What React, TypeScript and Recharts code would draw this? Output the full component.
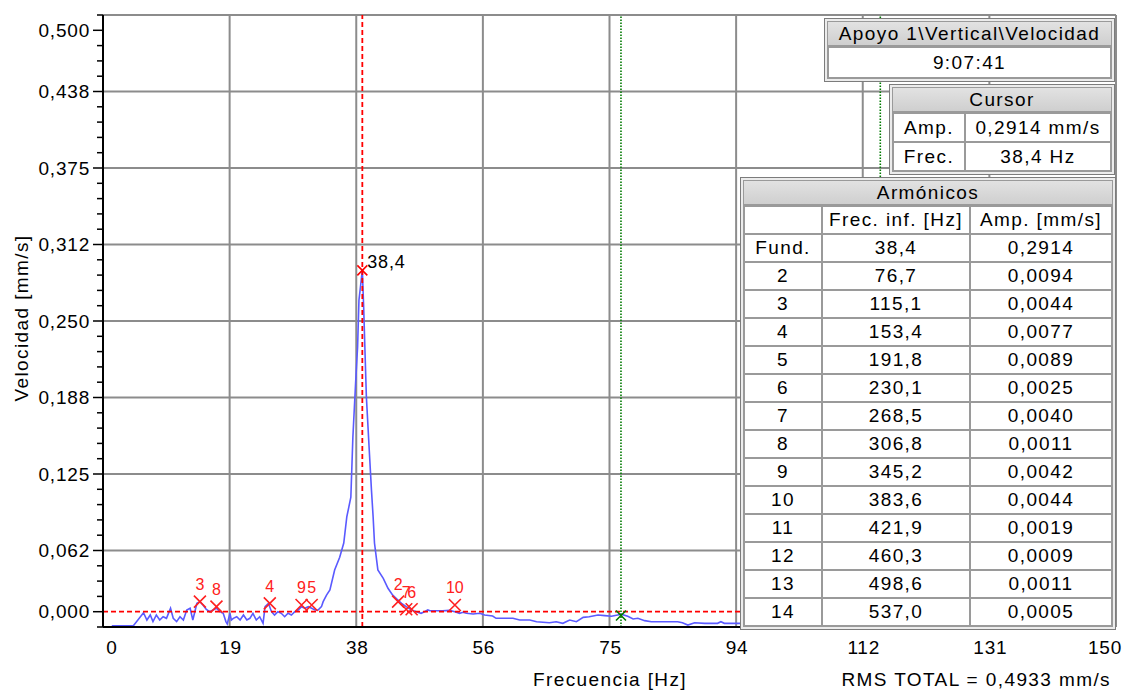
import React from 'react'
import { ComposedChart, Line, Scatter, XAxis, YAxis, CartesianGrid, ReferenceLine } from 'recharts'

// spectrum (Hz / mm/s)
const spectrumFreq = [
  1.3, 4.5, 6.0, 6.5, 7.0, 7.4, 7.9, 8.4, 8.9, 9.4, 10.0, 10.4, 10.9, 11.4, 11.9, 12.4, 12.9, 13.3, 13.6, 13.9,
  14.35, 14.8, 15.3, 15.8, 16.3, 16.8, 17.3, 17.8, 18.2, 18.4, 18.8, 19.0, 19.3, 19.8, 20.3, 20.8, 21.3, 21.75, 22.2, 22.7,
  23.2, 23.7, 24.0, 24.5, 24.95, 25.4, 25.9, 26.4, 26.9, 27.4, 27.9, 28.4, 28.9, 29.4, 29.9, 30.4, 30.9, 31.4, 31.85, 32.35,
  32.6, 33.1, 33.6, 34.3, 35.05, 35.65, 36.1, 36.7, 37.0, 37.4, 37.7, 37.9, 38.4, 38.6, 38.8, 39.0, 39.4, 39.75, 40.0, 40.2,
  40.7, 41.5, 42.2, 42.9, 43.4, 44.2, 44.9, 45.7, 46.4, 47.1, 47.6, 48.1, 48.4, 50.3, 51.3, 52.1, 52.8, 53.3, 53.8, 54.8,
  55.8, 56.5, 57.7, 58.2, 60.7, 61.7, 63.2, 64.2, 66.1, 67.1, 68.1, 69.1, 70.1, 71.1, 72.0, 73.3, 74.3, 75.3, 76.2, 76.7,
  77.7, 78.5, 79.2, 80.2, 81.2, 83.1, 85.1, 85.8, 86.6, 87.6, 89.1, 91.0, 91.5, 92.0, 94.0, 96.0,
]
const spectrumAmp = [
  0.0010, 0.0010, 0.0117, 0.0057, 0.0098, 0.0044, 0.0098, 0.0057, 0.0084, 0.0071, 0.0153, 0.0071, 0.0044, 0.0084, 0.0057, 0.0139, 0.0153, 0.0057, 0.0125, 0.0193,
  0.0207, 0.0180, 0.0144, 0.0125, 0.0139, 0.0153, 0.0125, 0.0112, 0.0044, 0.0025, 0.0112, 0.0057, 0.0071, 0.0084, 0.0057, 0.0098, 0.0057, 0.0071, 0.0112, 0.0057,
  0.0084, 0.0030, 0.0166, 0.0193, 0.0125, 0.0098, 0.0125, 0.0112, 0.0084, 0.0112, 0.0098, 0.0125, 0.0139, 0.0166, 0.0153, 0.0166, 0.0153, 0.0139, 0.0139, 0.0166,
  0.0207, 0.0261, 0.0302, 0.0466, 0.0570, 0.0686, 0.0899, 0.1060, 0.1550, 0.1990, 0.2290, 0.2670, 0.2914, 0.2610, 0.2240, 0.1880, 0.1470, 0.1120, 0.0899, 0.0686,
  0.0466, 0.0398, 0.0316, 0.0260, 0.0234, 0.0193, 0.0166, 0.0139, 0.0125, 0.0112, 0.0125, 0.0139, 0.0133, 0.0133, 0.0136, 0.0125, 0.0112, 0.0120, 0.0112, 0.0106,
  0.0112, 0.0098, 0.0090, 0.0071, 0.0071, 0.0057, 0.0057, 0.0043, 0.0035, 0.0043, 0.0030, 0.0057, 0.0043, 0.0079, 0.0084, 0.0098, 0.0093, 0.0088, 0.0098, 0.0105,
  0.0088, 0.0066, 0.0071, 0.0052, 0.0043, 0.0043, 0.0043, 0.0035, 0.0016, 0.0035, 0.0030, 0.0030, 0.0043, 0.0030, 0.0030, 0.0030,
]

const xTicks = [0, 18.75, 37.5, 56.25, 75, 93.75, 112.5, 131.25, 150]
const xTickLabels = ['0', '19', '38', '56', '75', '94', '112', '131', '150']

const yGridValues = [0.0625, 0.125, 0.1875, 0.25, 0.3125, 0.375, 0.4375, 0.5]
const yLabelValues = [0.0125, 0.0625, 0.125, 0.1875, 0.25, 0.3125, 0.375, 0.4375, 0.4875]
const yLabels = ['0,000', '0,062', '0,125', '0,188', '0,250', '0,312', '0,375', '0,438', '0,500']
const yMinorTicks = Array.from({ length: 41 }, (_, i) => +(i * 0.0125).toFixed(4))

// marked peaks on the spectrum
const markLabels = ['3', '8', '4', '9', '5', '2', '7', '6', '10']
const markFreq = [14.35, 16.8, 24.7, 29.4, 30.9, 43.7, 44.9, 45.7, 52.1]
const markAmp = [0.0207, 0.0166, 0.0193, 0.018, 0.018, 0.0207, 0.0145, 0.0145, 0.018]

const cursorFreq = 38.4
const cursorAmp = 0.2914
const alarmLevel = 0.0125

const harmonicOrder = ['Fund.', '2', '3', '4', '5', '6', '7', '8', '9', '10', '11', '12', '13', '14']
const harmonicFreq = [38.4, 76.7, 115.1, 153.4, 191.8, 230.1, 268.5, 306.8, 345.2, 383.6, 421.9, 460.3, 498.6, 537.0]
const harmonicAmp = [0.2914, 0.0094, 0.0044, 0.0077, 0.0089, 0.0025, 0.0040, 0.0011, 0.0042, 0.0044, 0.0019, 0.0009, 0.0011, 0.0005]

const pointTitle = 'Apoyo 1\\Vertical\\Velocidad'
const pointTime = '9:07:41'
const rmsTotal = 0.4933

const W = 1124
const H = 695
const FONT = '"Liberation Sans", Arial, sans-serif'
const SPACING = 1.4
const fmt = (v: number, d: number) => v.toFixed(d).replace('.', ',')

const spectrum = spectrumFreq.map((f, i) => ({ freq: f, amp: spectrumAmp[i] }))
const marks = markFreq.map((f, i) => ({ freq: f, amp: markAmp[i], label: markLabels[i] }))
const cursorPoint = [{ freq: cursorFreq, amp: cursorAmp }]
const secondHarmonic = [{ freq: harmonicFreq[1], amp: harmonicAmp[1] }]

const tickStyle = { fontFamily: FONT, fontSize: 19, letterSpacing: 0.8, fill: '#000' }

function YTick(props: any) {
  const { x, y, payload } = props
  const idx = yLabelValues.findIndex((v) => Math.abs(v - payload.value) < 1e-6)
  const major = idx >= 0
  return (
    <g>
      <line x1={x - (major ? 10 : 6)} x2={x} y1={y} y2={y} stroke="#000" strokeWidth={1.5} />
      {major && (
        <text x={x - 13} y={y} textAnchor="end" dominantBaseline="central" style={tickStyle}>
          {yLabels[idx]}
        </text>
      )}
    </g>
  )
}

function XTick(props: any) {
  const { x, y, index } = props
  const dx = index === 0 ? 9 : index === xTicks.length - 1 ? -11 : 1
  return (
    <text x={x + dx} y={y + 20} textAnchor="middle" dominantBaseline="central" style={tickStyle}>
      {xTickLabels[index]}
    </text>
  )
}

function Cross({ cx, cy, size, color }: { cx: number; cy: number; size: number; color: string }) {
  return (
    <path
      d={`M${cx - size},${cy - size}L${cx + size},${cy + size}M${cx + size},${cy - size}L${cx - size},${cy + size}`}
      stroke={color}
      strokeWidth={1.6}
      fill="none"
    />
  )
}

const cellStyle: React.CSSProperties = {
  border: '2px solid #9a9a9a',
  padding: 0,
  textAlign: 'center',
  fontSize: 19,
  letterSpacing: SPACING,
  whiteSpace: 'nowrap',
  color: '#000',
}

function Panel({ left, top, width, title, children }: { left: number; top: number; width: number; title: string; children: React.ReactNode }) {
  return (
    <div
      style={{
        position: 'absolute',
        left,
        top,
        width,
        boxSizing: 'border-box',
        border: '1px solid #7c7c7c',
        background: '#ececec',
        padding: 2,
        fontFamily: FONT,
      }}
    >
      <div
        style={{
          height: 25,
          boxSizing: 'border-box',
          background: 'linear-gradient(#e2e2e2, #cfcfcf)',
          border: '1px solid #9a9a9a',
          textAlign: 'center',
          lineHeight: '23px',
          fontSize: 19,
          letterSpacing: SPACING,
          color: '#000',
          whiteSpace: 'nowrap',
        }}
      >
        {title}
      </div>
      {children}
    </div>
  )
}

const titleText: React.CSSProperties = { position: 'absolute', fontSize: 19, letterSpacing: SPACING, whiteSpace: 'nowrap', color: '#000' }

export default function App() {
  return (
    <div style={{ position: 'absolute', left: 0, top: 0, width: W, height: H, background: '#fff', fontFamily: FONT }}>
      <ComposedChart width={W} height={H} margin={{ top: 15, right: 8, bottom: 0, left: 0 }}>
        <CartesianGrid horizontalValues={yGridValues} verticalValues={xTicks} stroke="#8c8c8c" strokeWidth={2} />
        <XAxis
          type="number"
          dataKey="freq"
          domain={[0, 150]}
          ticks={xTicks}
          interval={0}
          height={68}
          tickSize={0}
          tickMargin={0}
          tickLine={false}
          axisLine={{ stroke: '#000', strokeWidth: 2 }}
          tick={(p: any) => <XTick {...p} />}
        />
        <YAxis
          type="number"
          domain={[0, 0.5]}
          ticks={yMinorTicks}
          interval={0}
          width={103}
          tickSize={0}
          tickMargin={0}
          tickLine={false}
          axisLine={{ stroke: '#000', strokeWidth: 2 }}
          tick={(p: any) => <YTick {...p} />}
        />
        <Line data={spectrum} dataKey="amp" type="linear" stroke="#5a5aff" strokeWidth={1.6} dot={false} activeDot={false} isAnimationActive={false} />
        <ReferenceLine y={alarmLevel} stroke="#ff0000" strokeWidth={1.8} strokeDasharray="5 3" />
        <ReferenceLine x={cursorFreq} stroke="#ff0000" strokeWidth={1.8} strokeDasharray="5 3" />
        {harmonicFreq
          .slice(1)
          .filter((f) => f <= 150)
          .map((f) => (
            <ReferenceLine key={f} x={f} stroke="#007a00" strokeWidth={1.6} strokeDasharray="1.5 1.5" />
          ))}
        <Scatter
          data={marks}
          dataKey="amp"
          isAnimationActive={false}
          shape={(p: any) => (
            <g>
              <Cross cx={p.cx} cy={p.cy} size={6} color="#ff2020" />
              <text x={p.cx} y={p.cy - 17} textAnchor="middle" dominantBaseline="central" style={{ fontFamily: FONT, fontSize: 16, fill: '#ff2020' }}>
                {p.payload.label}
              </text>
            </g>
          )}
        />
        <Scatter
          data={secondHarmonic}
          dataKey="amp"
          isAnimationActive={false}
          shape={(p: any) => <Cross cx={p.cx} cy={p.cy} size={5} color="#007a00" />}
        />
        <Scatter
          data={cursorPoint}
          dataKey="amp"
          isAnimationActive={false}
          shape={(p: any) => (
            <g>
              <Cross cx={p.cx} cy={p.cy} size={5} color="#ff0000" />
              <text x={p.cx + 5} y={p.cy - 8} dominantBaseline="central" style={{ fontFamily: FONT, fontSize: 18, letterSpacing: 0.8, fill: '#000' }}>
                {fmt(cursorFreq, 1)}
              </text>
            </g>
          )}
        />
      </ComposedChart>

      <div style={{ ...titleText, left: 22, top: 318, transform: 'translate(-50%, -50%) rotate(-90deg)' }}>Velocidad [mm/s]</div>
      <div style={{ ...titleText, left: 610, top: 680, transform: 'translate(-50%, -50%)' }}>Frecuencia [Hz]</div>
      <div style={{ ...titleText, right: W - 1111, top: 680, transform: 'translateY(-50%)' }}>
        RMS TOTAL = {fmt(rmsTotal, 4)} mm/s
      </div>

      <Panel left={824} top={18} width={291} title={pointTitle}>
        <table style={{ borderCollapse: 'collapse', width: '100%', background: '#fff', fontFamily: FONT }}>
          <tbody>
            <tr style={{ height: 31 }}>
              <td style={cellStyle}>{pointTime}</td>
            </tr>
          </tbody>
        </table>
      </Panel>

      <Panel left={889} top={84} width={226} title="Cursor">
        <table style={{ borderCollapse: 'collapse', width: '100%', background: '#fff', fontFamily: FONT }}>
          <tbody>
            <tr style={{ height: 29 }}>
              <td style={{ ...cellStyle, width: 70 }}>Amp.</td>
              <td style={cellStyle}>{fmt(cursorAmp, 4)} mm/s</td>
            </tr>
            <tr style={{ height: 29 }}>
              <td style={{ ...cellStyle, width: 70 }}>Frec.</td>
              <td style={cellStyle}>{fmt(cursorFreq, 1)} Hz</td>
            </tr>
          </tbody>
        </table>
      </Panel>

      <Panel left={740} top={177} width={376} title="Armónicos">
        <table style={{ borderCollapse: 'collapse', width: '100%', background: '#fff', fontFamily: FONT, tableLayout: 'fixed' }}>
          <tbody>
            <tr style={{ height: 28 }}>
              <td style={{ ...cellStyle, width: 76 }}></td>
              <td style={{ ...cellStyle, width: 146 }}>Frec. inf. [Hz]</td>
              <td style={cellStyle}>Amp. [mm/s]</td>
            </tr>
            {harmonicOrder.map((h, i) => (
              <tr key={h} style={{ height: 28 }}>
                <td style={cellStyle}>{h}</td>
                <td style={cellStyle}>{fmt(harmonicFreq[i], 1)}</td>
                <td style={cellStyle}>{fmt(harmonicAmp[i], 4)}</td>
              </tr>
            ))}
          </tbody>
        </table>
      </Panel>
    </div>
  )
}
